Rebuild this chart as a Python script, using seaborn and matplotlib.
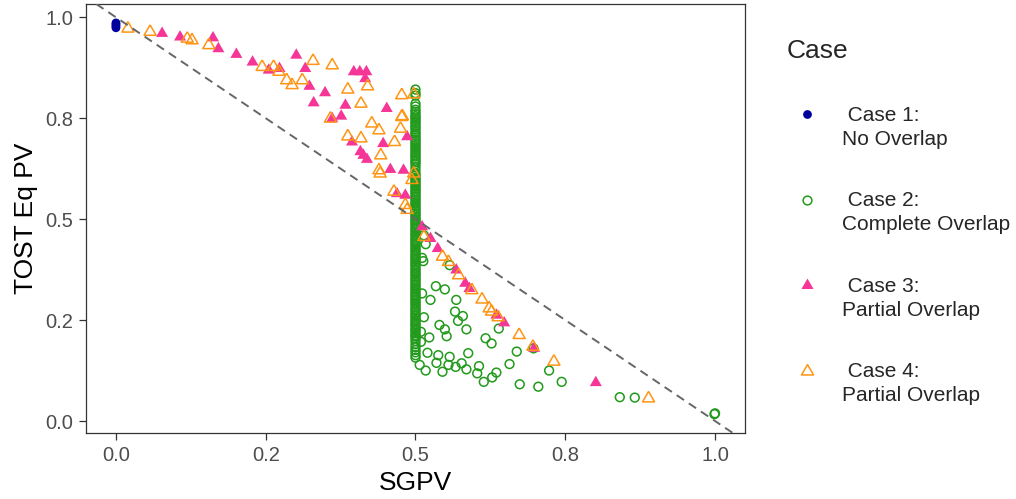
import matplotlib
matplotlib.use("Agg")
import matplotlib.pyplot as plt
import pandas as pd
import seaborn as sns
from matplotlib.lines import Line2D

# ---------------- data ----------------
case1_x = [0.0, 0.0, 0.0, 0.0]
case1_y = [0.986, 0.982, 0.978, 0.974]

case2_col_y = [0.821, 0.812, 0.806, 0.786, 0.779, 0.771, 0.766, 0.760,
               0.755, 0.751, 0.746, 0.741, 0.737, 0.731, 0.727, 0.722, 0.716, 0.712,
               0.707, 0.702, 0.697, 0.693, 0.688, 0.683, 0.678, 0.674, 0.669, 0.664,
               0.659, 0.655, 0.650, 0.645, 0.641, 0.636, 0.629, 0.621, 0.613, 0.608,
               0.603, 0.598, 0.594, 0.589, 0.584, 0.580, 0.575, 0.570, 0.566, 0.561,
               0.556, 0.552, 0.547, 0.542, 0.538, 0.533, 0.528, 0.524, 0.519, 0.514,
               0.510, 0.505, 0.500, 0.496, 0.491, 0.487, 0.482, 0.477, 0.473, 0.468,
               0.463, 0.459, 0.454, 0.449, 0.445, 0.440, 0.436, 0.431, 0.426, 0.422,
               0.417, 0.412, 0.408, 0.403, 0.399, 0.394, 0.389, 0.385, 0.380, 0.375,
               0.371, 0.366, 0.362, 0.357, 0.352, 0.348, 0.343, 0.338, 0.334, 0.329,
               0.325, 0.320, 0.315, 0.311, 0.306, 0.301, 0.297, 0.292, 0.288, 0.283,
               0.278, 0.274, 0.269, 0.264, 0.260, 0.255, 0.250, 0.246, 0.241, 0.237,
               0.232, 0.227, 0.223, 0.218, 0.213, 0.209, 0.204, 0.198, 0.190, 0.183,
               0.176, 0.170, 0.163, 0.157]
case2_col_x = [0.5] * len(case2_col_y)

case2_x = [0.517, 0.511, 0.513, 0.514, 0.557, 0.534, 0.549, 0.511, 0.525, 0.568,
           0.566, 0.579, 0.571, 0.585, 0.514, 0.540, 0.549, 0.552, 0.523, 0.509,
           0.509, 0.617, 0.627, 0.639, 0.669, 0.657, 0.520, 0.538, 0.557, 0.588,
           0.535, 0.555, 0.567, 0.577, 0.507, 0.517, 0.545, 0.585, 0.606, 0.603,
           0.635, 0.628, 0.614, 0.723, 0.674, 0.705, 0.744, 0.697, 0.841, 0.866,
           1.000, 0.999]
case2_y = [0.438, 0.404, 0.396, 0.460, 0.386, 0.334, 0.326, 0.316, 0.300, 0.300,
           0.271, 0.260, 0.248, 0.227, 0.257, 0.238, 0.227, 0.210, 0.207, 0.221,
           0.196, 0.205, 0.192, 0.229, 0.172, 0.141, 0.169, 0.163, 0.159, 0.168,
           0.144, 0.139, 0.134, 0.143, 0.139, 0.125, 0.122, 0.128, 0.136, 0.118,
           0.120, 0.108, 0.097, 0.125, 0.091, 0.085, 0.097, 0.180, 0.059, 0.058,
           0.019, 0.017]

case3_x = [0.077, 0.107, 0.162, 0.171, 0.201, 0.228, 0.255, 0.273, 0.301, 0.316,
           0.323, 0.349, 0.330, 0.397, 0.407, 0.418, 0.416, 0.383, 0.361, 0.376,
           0.452, 0.486, 0.394, 0.446, 0.408, 0.413, 0.419, 0.458, 0.480, 0.469,
           0.483, 0.511, 0.525, 0.537, 0.568, 0.583, 0.590, 0.635, 0.648, 0.698,
           0.801]
case3_y = [0.960, 0.951, 0.949, 0.922, 0.908, 0.889, 0.869, 0.873, 0.906, 0.873,
           0.829, 0.813, 0.788, 0.865, 0.865, 0.865, 0.848, 0.782, 0.749, 0.755,
           0.774, 0.704, 0.691, 0.687, 0.667, 0.658, 0.648, 0.623, 0.621, 0.563,
           0.559, 0.481, 0.452, 0.427, 0.374, 0.341, 0.328, 0.262, 0.243, 0.180,
           0.095]

case4_x = [0.020, 0.057, 0.119, 0.127, 0.155, 0.244, 0.263, 0.272, 0.329, 0.361,
           0.285, 0.294, 0.311, 0.387, 0.420, 0.409, 0.358, 0.477, 0.497, 0.477,
           0.427, 0.439, 0.475, 0.387, 0.409, 0.465, 0.442, 0.439, 0.441, 0.464,
           0.483, 0.494, 0.478, 0.497, 0.486, 0.514, 0.545, 0.555, 0.572, 0.594,
           0.611, 0.623, 0.627, 0.638, 0.673, 0.696, 0.731, 0.889]
case4_y = [0.972, 0.964, 0.947, 0.943, 0.931, 0.877, 0.877, 0.865, 0.892, 0.881,
           0.844, 0.832, 0.844, 0.821, 0.829, 0.786, 0.749, 0.807, 0.809, 0.753,
           0.737, 0.720, 0.724, 0.705, 0.700, 0.691, 0.658, 0.621, 0.613, 0.568,
           0.535, 0.597, 0.755, 0.613, 0.523, 0.456, 0.407, 0.394, 0.361, 0.324,
           0.301, 0.279, 0.271, 0.257, 0.213, 0.184, 0.147, 0.056]

case_labels = [" Case 1:\nNo Overlap", " Case 2:\nComplete Overlap",
               " Case 3:\nPartial Overlap", " Case 4:\nPartial Overlap"]
case_colors = ["#00009C", "#229A1C", "#F53696", "#FF9514"]

tick_values = [0.0, 0.25, 0.5, 0.75, 1.0]
tick_labels = ["0.0", "0.2", "0.5", "0.8", "1.0"]
ref_intercept, ref_slope = 1.0, -1.0

# ---------------- styling ----------------
sns.set_style("white")
plt.rcParams["font.family"] = ["Liberation Sans", "DejaVu Sans"]

TRI = [(0.0, 1.0), (-0.866, -0.5), (0.866, -0.5), (0.0, 1.0)]
marker_specs = [
    dict(marker="o", filled=True, s=40, lw=0.0),
    dict(marker="o", filled=False, s=40, lw=1.1),
    dict(marker=TRI, filled=True, s=100, lw=0.0),
    dict(marker=TRI, filled=False, s=100, lw=1.1),
]

fig = plt.figure(figsize=(10.16, 4.99), dpi=100)
W, H = 1016, 499
ax = fig.add_axes([86 / W, 1 - 433 / H, (745 - 86) / W, (433 - 4) / H])

frames = [
    pd.DataFrame({"SGPV": case1_x, "TOST": case1_y}),
    pd.DataFrame({"SGPV": case2_col_x + case2_x, "TOST": case2_col_y + case2_y}),
    pd.DataFrame({"SGPV": case3_x, "TOST": case3_y}),
    pd.DataFrame({"SGPV": case4_x, "TOST": case4_y}),
]

ax.axline((0.0, ref_intercept), slope=ref_slope, color="#666666", lw=1.4,
          dashes=(4.5, 3.0), zorder=3)

for df, col, spec in zip(frames, case_colors, marker_specs):
    if spec["filled"]:
        sns.scatterplot(data=df, x="SGPV", y="TOST", ax=ax, marker=spec["marker"],
                        s=spec["s"], color=col, edgecolor="none", linewidth=0,
                        zorder=2)
    else:
        sns.scatterplot(data=df, x="SGPV", y="TOST", ax=ax, marker=spec["marker"],
                        s=spec["s"], color=col, facecolor="none", edgecolor=col,
                        linewidth=spec["lw"], zorder=2)

ax.set_xlim(-0.05, 1.05)
ax.set_ylim(-0.0297, 1.0329)
ax.set_xticks(tick_values)
ax.set_xticklabels(tick_labels)
ax.set_yticks(tick_values)
ax.set_yticklabels(tick_labels)
ax.tick_params(axis="both", which="major", direction="out", length=5.0, width=0.9,
               color="#333333", labelcolor="#4D4D4D", labelsize=14.5,
               bottom=True, left=True)
ax.tick_params(axis="x", pad=4.5)
ax.tick_params(axis="y", pad=4)
for sp in ax.spines.values():
    sp.set_visible(True)
    sp.set_color("#333333")
    sp.set_linewidth(0.9)
ax.set_xlabel("SGPV", fontsize=19, color="black", labelpad=4)
ax.set_ylabel("TOST Eq PV", fontsize=19, color="black", labelpad=5.5)

# ---------------- legend ----------------
handles = []
for col, spec in zip(case_colors, marker_specs):
    ms = 10.0 if spec["marker"] is TRI else 6.3
    handles.append(Line2D([], [], linestyle="none", marker=spec["marker"],
                          markersize=ms,
                          markerfacecolor=col if spec["filled"] else "none",
                          markeredgecolor=col,
                          markeredgewidth=0.0 if spec["filled"] else 1.1))
leg = fig.legend(handles, case_labels, title="Case", loc="upper left",
                 bbox_to_anchor=(787 / W, 1 - 39 / H), frameon=False,
                 fontsize=15, title_fontsize=19, alignment="left",
                 borderpad=0.0, borderaxespad=0.0, handlelength=1.92,
                 handletextpad=0.72, labelspacing=2.05)
for t in leg.get_texts():
    t.set_linespacing(1.32)
# keys sit beside the first line of each two-line label
for h in leg.legend_handles:
    h.set_ydata([y + 9.3 for y in h.get_ydata()])

fig.savefig("out.png", dpi=100)
